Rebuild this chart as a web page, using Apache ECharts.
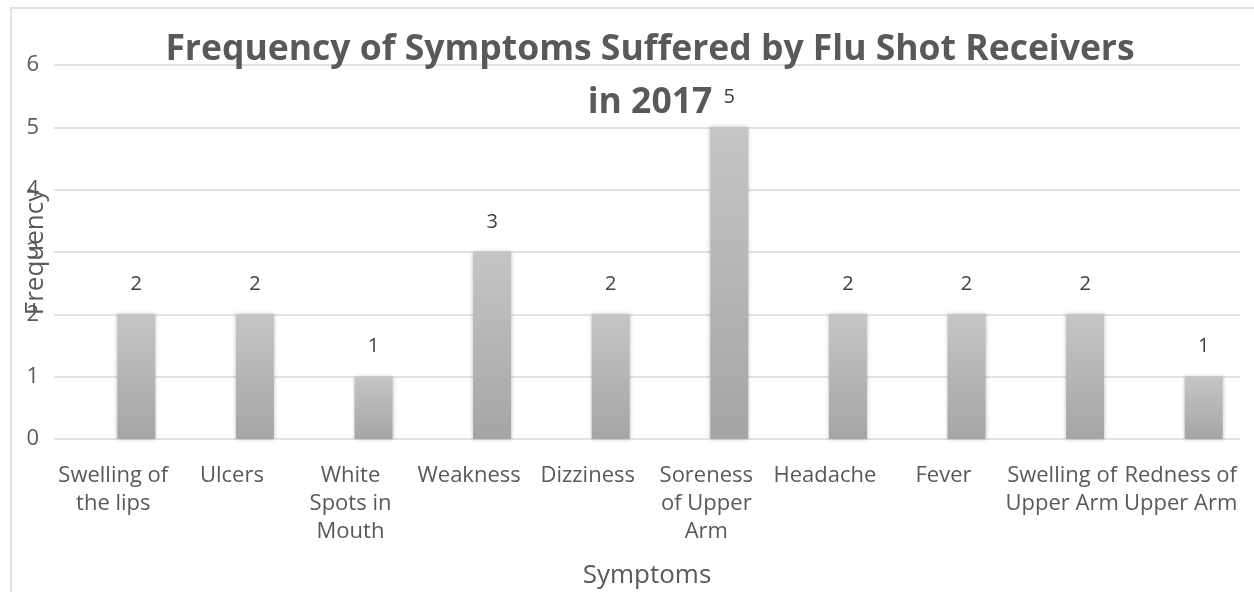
<!DOCTYPE html>
<html>
<head>
<meta charset="utf-8">
<script src="https://cdn.jsdelivr.net/npm/echarts@6/dist/echarts.min.js"></script>
<style>html,body{margin:0;padding:0;background:#fff}#c{width:1254px;height:592px}</style>
</head>
<body>
<div id="c"></div>
<script>
const categories = ["Swelling of the lips","Ulcers","White Spots in Mouth","Weakness","Dizziness","Soreness of Upper Arm","Headache","Fever","Swelling of Upper Arm","Redness of Upper Arm"];
const tickLabels = ["Swelling of\nthe lips","Ulcers","White\nSpots in\nMouth","Weakness","Dizziness","Soreness\nof Upper\nArm","Headache","Fever","Swelling of\nUpper Arm","Redness of\nUpper Arm"];
const frequency = [2,2,1,3,2,5,2,2,2,1];
const yTicks = [0,1,2,3,4,5,6];

const FONT = '"Open Sans", "Noto Sans", sans-serif';
const chart = echarts.init(document.getElementById('c'));
const barColor = new echarts.graphic.LinearGradient(0,0,0,1,[{offset:0,color:'#c5c5c5'},{offset:1,color:'#a5a5a5'}]);
chart.setOption({
  animation:false,
  textStyle:{fontFamily:FONT},
  title:{
    text:'Frequency of Symptoms Suffered by Flu Shot Receivers\nin 2017',
    left:650, top:23, padding:0, textAlign:'center',
    textStyle:{fontFamily:FONT,fontSize:35.5,fontWeight:'bold',color:'#595959',lineHeight:53}
  },
  graphic:[{type:'rect',shape:{x:11,y:8,width:1400,height:800},style:{fill:'none',stroke:'#d9d9d9',lineWidth:1.5},silent:true,z:-1}],
  grid:[
    {left:54, top:65, width:1186, height:374, outerBoundsMode:'none', containLabel:false},
    {left:77, top:65, width:1186, height:374, outerBoundsMode:'none', containLabel:false}
  ],
  xAxis:[
    {type:'category', gridIndex:0, data:categories, axisLine:{show:false}, axisTick:{show:false},
     axisLabel:{interval:0, margin:23, fontFamily:FONT, fontSize:22, color:'#595959', lineHeight:28, hideOverlap:false,
       formatter:(v,i)=>tickLabels[i]},
     name:'Symptoms', nameLocation:'middle', nameGap:137, nameMoveOverlap:false,
     nameTextStyle:{fontFamily:FONT,fontSize:26,color:'#595959',verticalAlign:'middle'}},
    {type:'category', gridIndex:1, data:categories, axisLine:{show:false}, axisTick:{show:false}, axisLabel:{show:false}}
  ],
  yAxis:[
    {type:'value', gridIndex:0, min:yTicks[0], max:yTicks[yTicks.length-1], interval:1,
     axisLine:{show:false}, axisTick:{show:false},
     axisLabel:{margin:15, fontFamily:FONT, fontSize:22, color:'#595959'},
     splitLine:{lineStyle:{color:'#d9d9d9',width:1.5}},
     name:'Frequency', nameLocation:'middle', nameRotate:90, nameGap:18, nameMoveOverlap:false,
     nameTextStyle:{fontFamily:FONT,fontSize:26,color:'#595959',verticalAlign:'middle'}},
    {type:'value', gridIndex:1, min:0, max:6, interval:1, show:false}
  ],
  series:[{
    type:'bar', xAxisIndex:1, yAxisIndex:1, data:frequency, barWidth:38,
    itemStyle:{color:barColor, shadowColor:'rgba(0,0,0,0.25)', shadowBlur:4},
    label:{show:true, position:'top', distance:20, fontFamily:FONT, fontSize:20, color:'#404040'}
  }]
});
</script>
</body>
</html>
